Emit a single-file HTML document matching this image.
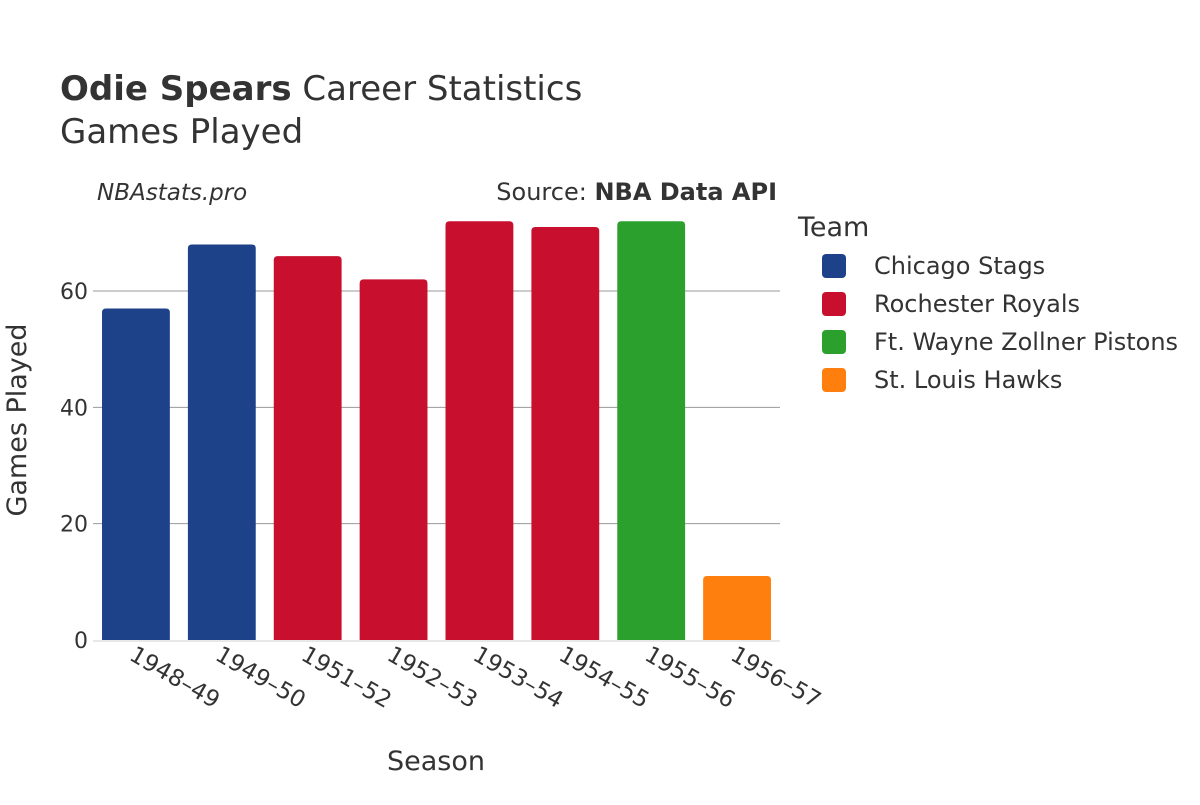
<!DOCTYPE html>
<html><head><meta charset="utf-8"><style>
body{margin:0;background:#fff;}
svg text{font-family:"DejaVu Sans","Liberation Sans",sans-serif;fill:#333;}
</style></head><body>
<svg id="chart" width="1200" height="800" xmlns="http://www.w3.org/2000/svg">
<text x="60" y="100" font-size="34"><tspan font-weight="bold">Odie Spears</tspan> Career Statistics</text>
<text x="60" y="143" font-size="34">Games Played</text>
<text x="97" y="200" font-size="23" font-style="italic">NBAstats.pro</text>
<text x="777" y="200" font-size="24" text-anchor="end">Source: <tspan font-weight="bold">NBA Data API</tspan></text>
<g id="grid"></g>
<g id="bars"></g>
<g id="xt"></g>
<text x="436" y="770" font-size="27" text-anchor="middle">Season</text>
<text transform="translate(26,420) rotate(-90)" font-size="27" text-anchor="middle">Games Played</text>
<text x="798" y="236" font-size="27">Team</text>
<g id="legend"></g>
</svg>
<script>
const seasons=["1948–49","1949–50","1951–52","1952–53","1953–54","1954–55","1955–56","1956–57"];
const games=[57,68,66,62,72,71,72,11];
const teams=["Chicago Stags","Chicago Stags","Rochester Royals","Rochester Royals","Rochester Royals","Rochester Royals","Ft. Wayne Zollner Pistons","St. Louis Hawks"];
const teamNames=["Chicago Stags","Rochester Royals","Ft. Wayne Zollner Pistons","St. Louis Hawks"];
const teamColors=["#1d428a","#c8102e","#2ca02c","#ff7f0e"];
const yTicks=[0,20,40,60];
const NS="http://www.w3.org/2000/svg";
const x0=93,x1=780,y0=640,yTop=291,yTopVal=60;
const band=(x1-x0)/seasons.length;
const y=v=>y0-(y0-yTop)*v/yTopVal;
const xc=i=>x0+band*(i+0.5);
function mk(t,a,p){const e=document.createElementNS(NS,t);for(const k in a)e.setAttribute(k,a[k]);document.getElementById(p).appendChild(e);return e;}
yTicks.forEach(v=>{
 if(v>0){const l=mk("line",{x1:x0,x2:x1,y1:y(v),y2:y(v),stroke:"#999","stroke-width":1},"grid");
 
 }
 const t=mk("text",{x:x0-5,y:y(v)+8,"font-size":22,"text-anchor":"end"},"grid");t.textContent=v;
 
 
});
const ax=mk("line",{x1:x0,x2:x1,y1:y0+1,y2:y0+1,stroke:"#e8e8e8","stroke-width":2},"grid");


const bw=band*0.79,r=4;
games.forEach((v,i)=>{
 const c=teamColors[teamNames.indexOf(teams[i])];
 const l=xc(i)-bw/2,t=y(v);
 const d=`M${l},${y0}V${t+r}Q${l},${t} ${l+r},${t}H${l+bw-r}Q${l+bw},${t} ${l+bw},${t+r}V${y0}Z`;
 const b=mk("path",{d:d,fill:c},"bars");
 
 
 const tx=mk("text",{transform:`translate(${xc(i)-8},${659}) rotate(30)`,"font-size":23},"xt");tx.textContent=seasons[i];
 
 
});
teamNames.forEach((n,i)=>{
 const yy=266+i*38;
 const s=mk("rect",{x:822,y:yy-12,width:24,height:24,rx:4,fill:teamColors[i]},"legend");
 
 
 const t=mk("text",{x:874,y:yy+8,"font-size":24},"legend");t.textContent=n;
 
 
});
</script>
</body></html>
